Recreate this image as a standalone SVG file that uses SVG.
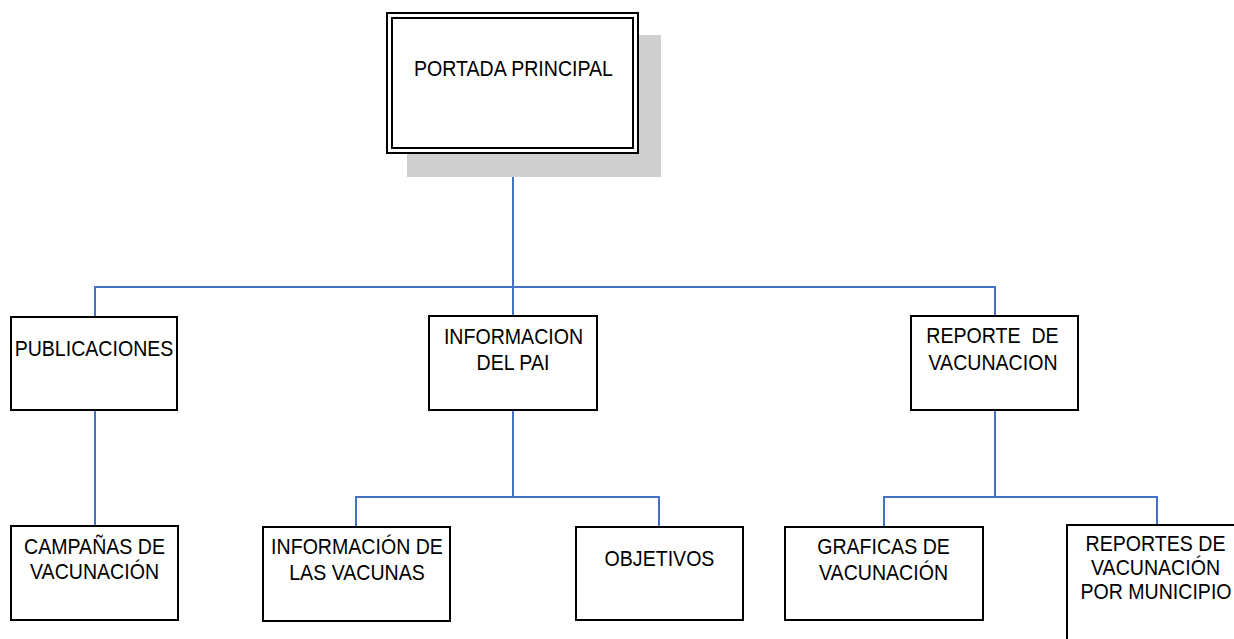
<svg xmlns="http://www.w3.org/2000/svg" width="1234" height="639" viewBox="0 0 1234 639">
<style>
.box{fill:#ffffff;stroke:#000000;stroke-width:2}
.conn{fill:none;stroke:#4472C4;stroke-width:2}
.t{font-family:"Liberation Sans",Arial,sans-serif;font-size:22px;fill:#000000;text-anchor:middle;white-space:pre}
</style>
<rect width="1234" height="639" fill="#ffffff"/>
<g id="connectors">
<path class="conn" d="M513,153 V316"/>
<path class="conn" d="M95,316 V287 H995 V316"/>
<path class="conn" d="M95,410 V526"/>
<path class="conn" d="M513,410 V497"/>
<path class="conn" d="M356,527 V497 H659 V527"/>
<path class="conn" d="M995,410 V497"/>
<path class="conn" d="M884,527 V497 H1157 V525"/>
</g>
<g id="portada">
<rect x="407" y="35" width="254" height="142" fill="#cfcfcf"/>
<rect class="box" x="387" y="13" width="251" height="140"/>
<rect x="392" y="18" width="241" height="130" fill="none" stroke="#000" stroke-width="2"/>
<text class="t" transform="translate(513.5,76) scale(0.89,1)">PORTADA PRINCIPAL</text>
</g>
<g id="publicaciones">
<rect class="box" x="11" y="317" width="166" height="93"/>
<text class="t" transform="translate(94,356) scale(0.89,1)">PUBLICACIONES</text>
</g>
<g id="informacion-pai">
<rect class="box" x="429" y="316" width="168" height="94"/>
<text class="t" transform="translate(513.5,344) scale(0.89,1)">INFORMACION</text>
<text class="t" transform="translate(513,370) scale(0.89,1)">DEL PAI</text>
</g>
<g id="reporte-vacunacion">
<rect class="box" x="911" y="316" width="167" height="94"/>
<text class="t" transform="translate(992.5,343) scale(0.89,1)">REPORTE  DE</text>
<text class="t" transform="translate(993,370) scale(0.89,1)">VACUNACION</text>
</g>
<g id="campanas">
<rect class="box" x="11" y="526" width="167" height="94"/>
<text class="t" transform="translate(94.5,554) scale(0.89,1)">CAMPAÑAS DE</text>
<text class="t" transform="translate(94.5,579) scale(0.89,1)">VACUNACIÓN</text>
</g>
<g id="info-vacunas">
<rect class="box" x="263" y="527" width="187" height="94"/>
<text class="t" transform="translate(357,554) scale(0.89,1)">INFORMACIÓN DE</text>
<text class="t" transform="translate(357,580) scale(0.89,1)">LAS VACUNAS</text>
</g>
<g id="objetivos">
<rect class="box" x="576" y="527" width="167" height="93"/>
<text class="t" transform="translate(659.5,566) scale(0.89,1)">OBJETIVOS</text>
</g>
<g id="graficas">
<rect class="box" x="785" y="527" width="198" height="93"/>
<text class="t" transform="translate(883.5,554) scale(0.89,1)">GRAFICAS DE</text>
<text class="t" transform="translate(883.5,580) scale(0.89,1)">VACUNACIÓN</text>
</g>
<g id="reportes-municipio">
<rect class="box" x="1067" y="525" width="180" height="130"/>
<text class="t" transform="translate(1155.5,551) scale(0.89,1)">REPORTES DE</text>
<text class="t" transform="translate(1155.5,575) scale(0.89,1)">VACUNACIÓN</text>
<text class="t" transform="translate(1156,599) scale(0.89,1)">POR MUNICIPIO</text>
</g>
</svg>
